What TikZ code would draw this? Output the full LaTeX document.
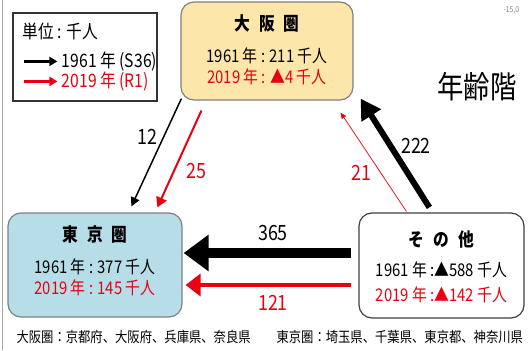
\documentclass[tikz,border=0pt]{standalone}
\usepackage{fontspec}
\setmainfont{Noto Sans CJK JP}[FakeStretch=0.85]
\usepackage{xcolor}
\usetikzlibrary{arrows.meta,calc}
\definecolor{osakafill}{RGB}{252,230,170}
\definecolor{tokyofill}{RGB}{183,222,232}
\definecolor{boxgray}{RGB}{128,128,128}
\definecolor{flowred}{RGB}{232,0,18}
\tikzset{
  region/.style={draw=boxgray, line width=1.2pt, rounded corners=13pt, inner sep=0pt},
  title/.style={font=\fontsize{18.5}{18.5}\selectfont\bfseries},
  figline/.style={font=\fontsize{17.5}{17.5}\selectfont},
  keytext/.style={font=\fontsize{18.5}{18.5}\selectfont},
  flowlabel/.style={font=\fontsize{21}{21}\selectfont},
  note/.style={font=\fontsize{14.5}{14.5}\selectfont, anchor=west},
}

\begin{document}
\begin{tikzpicture}[x=1pt,y=-1pt]
\useasboundingbox (0,0) rectangle (529,350);
\draw[boxgray!70, line width=1pt] (2,0) -- (2,350);

\node[region, fill=osakafill, minimum width=172pt, minimum height=98pt] (osaka) at (267,51) {};
\node[region, fill=tokyofill, minimum width=174pt, minimum height=104pt] (tokyo) at (95,265) {};
\node[region, draw=black!75, fill=white, minimum width=165pt, minimum height=105pt] (sonota) at (441.5,265.5) {};
\node[draw=black!80, line width=1.2pt, minimum width=144pt, minimum height=88pt, inner sep=0pt] (legend) at (85,57) {};

\node[title] (osakaT) at ($(osaka.north)+(0,22)$) {大\hspace{9pt}阪\hspace{9pt}圏};
\node[figline] (osakaA) at ($(osaka.north)+(0,54)$) {1961 年 : 211 千人};
\node[figline, text=flowred] (osakaB) at ($(osaka.north)+(0,75)$) {2019 年 : ▲4 千人};

\node[title] (tokyoT) at ($(tokyo.north)+(0,22)$) {東\hspace{9pt}京\hspace{9pt}圏};
\node[figline] (tokyoA) at ($(tokyo.north)+(0,54)$) {1961 年 : 377 千人};
\node[figline, text=flowred] (tokyoB) at ($(tokyo.north)+(0,75)$) {2019 年 : 145 千人};

\node[title] (sonotaT) at ($(sonota.north)+(0,27)$) {そ\hspace{9pt}の\hspace{9pt}他};
\node[figline] (sonotaA) at ($(sonota.north)+(0,57)$) {1961 年 :▲588 千人};
\node[figline, text=flowred] (sonotaB) at ($(sonota.north)+(0,82)$) {2019 年 :▲142 千人};

\node[keytext, anchor=west] (unit) at ($(legend.north west)+(7,19)$) {単位 : 千人};
\coordinate (keyA) at ($(legend.north west)+(12,49)$);
\coordinate (keyB) at ($(legend.north west)+(12,69)$);
\draw[line width=2.5pt, -{Triangle[length=8pt,width=9pt]}] (keyA) -- ++(33,0) node[keytext, right] {1961 年 (S36)};
\draw[flowred, line width=2.5pt, -{Triangle[length=8pt,width=9pt]}] (keyB) -- ++(33,0) node[keytext, right] {2019 年 (R1)};

\draw[line width=1.5pt, -{Triangle[length=9pt,width=9pt]}] ($(osaka.south west)+(1,-2)$) -- ($(tokyo.north west)+(124,-6)$);
\draw[flowred, line width=2pt, -{Triangle[length=10pt,width=11pt]}] ($(osaka.south west)+(21,10)$) -- ($(tokyo.north west)+(150,-5)$);
\draw[flowred, line width=0.7pt, -{Triangle[length=6pt,width=5pt]}] ($(sonota.north west)+(48,-1)$) -- ($(osaka.south east)+(-13,12)$);
\draw[line width=6pt, -{Triangle[length=20pt,width=22pt]}] ($(sonota.north west)+(71,-5)$) -- ($(osaka.south east)+(7,-2)$);
\draw[line width=10pt, -{Triangle[length=25pt,width=35pt]}] ($(sonota.west)+(-7,-12.5)$) -- ($(tokyo.east)+(1,-12)$);
\draw[flowred, line width=4.5pt, -{Triangle[length=15pt,width=22pt]}] ($(sonota.west)+(-7,19.5)$) -- ($(tokyo.east)+(3,20)$);

\node[flowlabel] (lab12) at (147,137) {12};
\node[flowlabel, text=flowred] (lab25) at (196,171) {25};
\node[flowlabel, text=flowred] (lab21) at (361,173) {21};
\node[flowlabel] (lab222) at (416,146) {222};
\node[flowlabel] (lab365) at (273,233) {365};
\node[flowlabel, text=flowred] (lab121) at (273,303) {121};

\node[note] (noteOsaka) at (13,337) {大阪圏：京都府、大阪府、兵庫県、奈良県};
\node[note] (noteTokyo) at (273,337) {東京圏：埼玉県、千葉県、東京都、神奈川県};
\node[font=\fontsize{31}{31}\selectfont, anchor=west] (ageHead) at (434,87) {年齢階};
\node[font=\fontsize{8}{8}\selectfont, text=boxgray, anchor=west] (axisTick) at (500,10) {-15,0};
\end{tikzpicture}
\end{document}
